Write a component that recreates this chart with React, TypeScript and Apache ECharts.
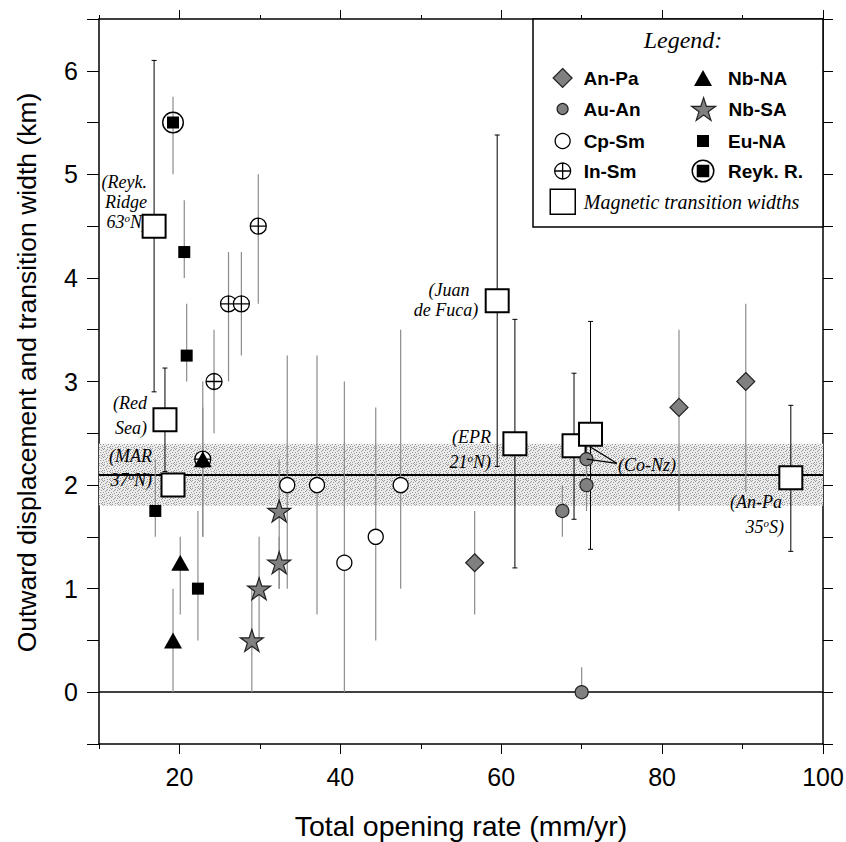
import React, { useEffect, useRef } from 'react';
import * as echarts from 'echarts';

// Each row: [total opening rate (mm/yr), value (km), error low, error high]
const anPa = [[56.7, 1.25, 0.75, 1.75], [82.1, 2.75, 1.75, 3.5], [90.4, 3.0, 1.93, 3.75]];
const auAn = [[67.6, 1.75, 1.5, 2.0], [70.6, 2.0, 1.75, 2.25], [70.6, 2.25, 2.0, 2.5], [70.0, 0.0, 0.0, 0.24]];
const cpSm = [[33.4, 2.0, 1.0, 3.25], [37.1, 2.0, 0.75, 3.25], [40.5, 1.25, 0.0, 3.0], [44.4, 1.5, 0.5, 2.75], [47.5, 2.0, 1.0, 3.5]];
const inSm = [[29.8, 4.5, 3.75, 5.0], [26.1, 3.75, 3.0, 4.25], [27.7, 3.75, 3.25, 4.25], [24.3, 3.0, 2.5, 3.5], [22.9, 2.25, 1.5, 3.0]];
const nbNa = [[22.9, 2.25, 1.5, 2.75], [20.1, 1.25, 0.75, 1.5], [19.2, 0.5, 0.0, 1.0]];
const nbSa = [[32.4, 1.75, 1.0, 2.25], [32.4, 1.25, 1.0, 1.5], [29.9, 1.0, 0.5, 1.5], [29.0, 0.5, 0.0, 1.0]];
const euNa = [[20.6, 4.25, 4.0, 4.75], [20.9, 3.25, 3.0, 3.75], [17.0, 1.75, 1.5, 2.25], [22.3, 1.0, 0.5, 1.75]];
const reykR = [[19.2, 5.5, 5.0, 5.75]];
const magWidths = [[16.85, 4.5, 2.9, 6.1], [18.2, 2.63, 2.13, 3.13], [19.2, 2.0, 2.0, 2.0], [59.5, 3.78, 2.18, 5.38], [61.7, 2.4, 1.2, 3.6], [69.05, 2.38, 1.67, 3.08], [71.1, 2.49, 1.38, 3.58], [96.0, 2.07, 1.36, 2.77]];

const meanWidth = 2.1;
const bandLow = 1.8;
const bandHigh = 2.4;
const coNzLabelAnchor = [74.36, 2.21];
const coNzTargets = [[71.04, 2.37], [70.63, 2.25]];

const xMajorTicks = [20, 40, 60, 80, 100];
const xMinorTicks = [10, 30, 50, 70, 90];
const yTickLabels = [0, 1, 2, 3, 4, 5, 6];

const SANS = '"Liberation Sans", Arial, Helvetica, sans-serif';
const SERIF = '"Liberation Serif", "Times New Roman", serif';

const STAR = 'path://M100,0 L122.45,69.1 L195.11,69.1 L136.33,111.8 L158.78,180.9 L100,138.2 L41.22,180.9 L63.67,111.8 L4.89,69.1 L77.55,69.1 Z';
const CROSS_CIRCLE = 'path://M0,10 A10,10 0 1,1 20,10 A10,10 0 1,1 0,10 Z M0,10 L20,10 M10,0 L10,20';
const RING_SQUARE = 'path://M0,11 A11,11 0 1,1 22,11 A11,11 0 1,1 0,11 Z M1.4,11 A9.6,9.6 0 1,0 20.6,11 A9.6,9.6 0 1,0 1.4,11 Z M5,5 L17,5 L17,17 L5,17 Z';

// stipple dot positions inside an 8x8 pattern tile (decoration only)
const STIPPLE = [[0, 0], [3, 1], [6, 0], [1, 3], [5, 2], [7, 4], [2, 5], [4, 4], [0, 6], [6, 6], [3, 7], [5, 7], [2, 2], [7, 1]];

const scatterDefs: any[] = [
  { name: 'Magnetic transition widths', data: magWidths, symbol: 'rect', size: 23, style: { color: '#fff', borderColor: '#000', borderWidth: 2 }, bar: '#000', cap: true },
  { name: 'An-Pa', data: anPa, symbol: 'diamond', size: 18, style: { color: '#808080', borderColor: '#222', borderWidth: 1.2 }, bar: '#8c8c8c' },
  { name: 'Au-An', data: auAn, symbol: 'circle', size: 13, style: { color: '#808080', borderColor: '#222', borderWidth: 1.2 }, bar: '#8c8c8c' },
  { name: 'Cp-Sm', data: cpSm, symbol: 'circle', size: 15, style: { color: '#fff', borderColor: '#000', borderWidth: 1.3 }, bar: '#8c8c8c' },
  { name: 'In-Sm', data: inSm, symbol: CROSS_CIRCLE, size: 16, style: { color: '#fff', borderColor: '#000', borderWidth: 1.3 }, bar: '#8c8c8c' },
  { name: 'Nb-NA', data: nbNa, symbol: 'triangle', size: [18, 16], style: { color: '#000', borderWidth: 0 }, bar: '#8c8c8c' },
  { name: 'Nb-SA', data: nbSa, symbol: STAR, size: 23, style: { color: '#808080', borderColor: '#222', borderWidth: 1.2 }, bar: '#8c8c8c' },
  { name: 'Eu-NA', data: euNa, symbol: 'rect', size: 12, style: { color: '#000', borderWidth: 0 }, bar: '#8c8c8c' },
  { name: 'Reyk. R.', data: reykR, symbol: RING_SQUARE, size: 22, style: { color: '#000', borderWidth: 0 }, bar: '#8c8c8c' },
];

const legendDefs: any[] = [
  { name: 'An-Pa', cx: 562, cy: 78, w: 19, h: 19, tx: 583, bw: 1.2 },
  { name: 'Au-An', cx: 562, cy: 109, w: 11, h: 11, tx: 583, bw: 1.2 },
  { name: 'Cp-Sm', cx: 562, cy: 141, w: 15, h: 15, tx: 583, bw: 1.3 },
  { name: 'In-Sm', cx: 562, cy: 171, w: 16, h: 16, tx: 583, bw: 1.3 },
  { name: 'Nb-NA', cx: 703, cy: 78, w: 18, h: 16, tx: 728, bw: 0 },
  { name: 'Nb-SA', cx: 703, cy: 109, w: 24, h: 24, tx: 728, bw: 1.2 },
  { name: 'Eu-NA', cx: 703, cy: 141, w: 12, h: 12, tx: 728, bw: 0 },
  { name: 'Reyk. R.', cx: 703, cy: 171, w: 23, h: 23, tx: 728, bw: 0 },
  { name: 'Magnetic transition widths', cx: 562, cy: 201, w: 25, h: 25, tx: 583, bw: 1.5, italic: true },
];

const annotations: any[] = [
  { t: '{n|(Reyk.}', x: 147, y: 182, a: 'right' },
  { t: '{n|Ridge}', x: 147, y: 202, a: 'right' },
  { t: '{n|63}{s|o}{n|N)}', x: 148, y: 222, a: 'right' },
  { t: '{n|(Red}', x: 147, y: 403, a: 'right' },
  { t: '{n|Sea)}', x: 147, y: 428, a: 'right' },
  { t: '{n|(MAR}', x: 152, y: 456, a: 'right' },
  { t: '{n|37}{s|o}{n|N)}', x: 152, y: 480, a: 'right' },
  { t: '{n|(Juan}', x: 449, y: 290, a: 'center' },
  { t: '{n|de Fuca)}', x: 446, y: 310, a: 'center' },
  { t: '{n|(EPR}', x: 491, y: 437, a: 'right' },
  { t: '{n|21}{s|o}{n|N)}', x: 491, y: 462, a: 'right' },
  { t: '{n|(Co-Nz)}', x: 618, y: 465, a: 'left' },
  { t: '{n|(An-Pa}', x: 782, y: 502, a: 'right' },
  { t: '{n|35}{s|o}{n|S)}', x: 784, y: 527, a: 'right' },
];

function errorBarSeries(def: any) {
  return {
    type: 'custom',
    name: 'err-' + def.name,
    z: 3,
    silent: true,
    data: def.data.map((r: number[]) => [r[0], r[2], r[3]]),
    encode: { x: 0, y: [1, 2] },
    renderItem: (_params: any, api: any) => {
      const x = api.value(0);
      const lo = api.value(1);
      const hi = api.value(2);
      const p1 = api.coord([x, lo]);
      const p2 = api.coord([x, hi]);
      const children: any[] = [];
      if (hi > lo) {
        children.push({ type: 'line', shape: { x1: p1[0], y1: p1[1], x2: p2[0], y2: p2[1] }, style: { stroke: def.bar, lineWidth: def.cap ? 1 : 1.2 } });
        if (def.cap) {
          children.push({ type: 'line', shape: { x1: p1[0] - 2.5, y1: p1[1], x2: p1[0] + 2.5, y2: p1[1] }, style: { stroke: def.bar, lineWidth: 1 } });
          children.push({ type: 'line', shape: { x1: p2[0] - 2.5, y1: p2[1], x2: p2[0] + 2.5, y2: p2[1] }, style: { stroke: def.bar, lineWidth: 1 } });
        }
      }
      return { type: 'group', children };
    },
  };
}

export default function App() {
  const ref = useRef<HTMLDivElement>(null);
  useEffect(() => {
    document.body.style.margin = '0';
    if (!ref.current) return;
    const chart = echarts.init(ref.current, undefined, { renderer: 'svg' });

    const tile = document.createElement('canvas');
    tile.width = 8;
    tile.height = 8;
    const ctx = tile.getContext('2d');
    if (ctx) {
      ctx.fillStyle = '#ebebeb';
      ctx.fillRect(0, 0, 8, 8);
      ctx.fillStyle = '#999999';
      STIPPLE.forEach(([px, py]) => ctx.fillRect(px, py, 1, 1));
    }
    const bandFill: any = { image: tile, repeat: 'repeat' };

    const tickStyle = { color: '#000', width: 1 };
    const axisLineStyle = { color: '#000', width: 1.5 };

    const series: any[] = [];
    series.push({
      type: 'line',
      name: 'band',
      data: [],
      silent: true,
      markArea: { silent: true, z: 1, itemStyle: { color: bandFill }, data: [[{ yAxis: bandLow }, { yAxis: bandHigh }]] },
      markLine: {
        silent: true, z: 2, symbol: ['none', 'none'], label: { show: false },
        lineStyle: { color: '#000', type: 'solid' },
        data: [{ yAxis: meanWidth, lineStyle: { width: 2.2 } }, { yAxis: 0, lineStyle: { width: 1.6 } }],
      },
    });
    scatterDefs.forEach((d) => series.push(errorBarSeries(d)));
    scatterDefs.forEach((d) => {
      series.push({
        type: 'scatter',
        name: d.name,
        z: 10,
        data: d.data.map((r: number[]) => [r[0], r[1]]),
        symbol: d.symbol,
        symbolSize: d.size,
        symbolKeepAspect: true,
        itemStyle: { ...d.style, opacity: 1 },
        emphasis: { disabled: true },
      });
    });
    series.push({
      type: 'line',
      name: 'leaders',
      data: [],
      silent: true,
      markLine: {
        silent: true, z: 12, symbol: ['none', 'none'], label: { show: false },
        lineStyle: { color: '#000', type: 'solid', width: 1.3 },
        data: coNzTargets.map((t) => [{ coord: coNzLabelAnchor }, { coord: t }]),
      },
    });

    const legends = legendDefs.map((l) => {
      const left = l.cx - l.w / 2;
      const rowH = Math.max(l.h, 22);
      return {
        data: [l.name],
        left,
        top: l.cy - rowH / 2,
        padding: 0,
        itemWidth: l.w,
        itemHeight: l.h,
        selectedMode: false,
        itemStyle: { borderWidth: l.bw },
        textStyle: {
          color: '#000',
          fontFamily: l.italic ? SERIF : SANS,
          fontStyle: l.italic ? 'italic' : 'normal',
          fontWeight: l.italic ? 'normal' : 'bold',
          fontSize: l.italic ? 20 : 19,
          lineHeight: 22,
          padding: [0, 0, 0, l.tx - (left + l.w + 5)],
        },
      };
    });

    const richBase = { fontFamily: SERIF, fontStyle: 'italic', fontSize: 18, lineHeight: 20, fill: '#000', color: '#000' };
    const graphic: any[] = [
      { type: 'rect', z: 3, shape: { x: 533, y: 19, width: 290, height: 208 }, style: { fill: '#fff', stroke: '#000', lineWidth: 1.5 } },
      { type: 'text', z: 5, x: 683, y: 40, style: { text: 'Legend:', fontFamily: SERIF, fontStyle: 'italic', fontSize: 24, fill: '#000', align: 'center', verticalAlign: 'middle' } },
    ];
    annotations.forEach((a) => {
      graphic.push({
        type: 'text', z: 6, x: a.x, y: a.y,
        style: {
          text: a.t, align: a.a, verticalAlign: 'middle', fill: '#000',
          fontFamily: SERIF, fontStyle: 'italic', fontSize: 18,
          rich: { n: richBase, s: { fontFamily: SERIF, fontStyle: 'italic', fontSize: 11, fill: '#000', color: '#000', verticalAlign: 'top', lineHeight: 5 } },
        },
      });
    });

    const option: any = {
      animation: false,
      backgroundColor: '#fff',
      grid: { left: 99, right: 23, top: 19, bottom: 98, containLabel: false, outerBoundsMode: 'none' },
      xAxis: [
        {
          type: 'value', min: 10, max: 100, interval: 10, position: 'bottom',
          axisLine: { show: true, onZero: false, lineStyle: axisLineStyle },
          axisTick: { show: true, customValues: xMajorTicks, length: 10, lineStyle: tickStyle },
          axisLabel: { customValues: xMajorTicks, fontSize: 25, color: '#000', fontFamily: SANS, margin: 20 },
          splitLine: { show: false },
          name: 'Total opening rate (mm/yr)', nameLocation: 'middle', nameGap: 67,
          nameTextStyle: { fontSize: 28.5, color: '#000', fontFamily: SANS },
        },
        {
          type: 'value', min: 10, max: 100, interval: 10, position: 'bottom',
          axisLine: { show: false, onZero: false },
          axisTick: { show: true, customValues: xMinorTicks, length: 5, lineStyle: tickStyle },
          axisLabel: { show: false }, splitLine: { show: false },
        },
        {
          type: 'value', min: 10, max: 100, interval: 10, position: 'top',
          axisLine: { show: true, onZero: false, lineStyle: axisLineStyle },
          axisTick: { show: true, customValues: xMajorTicks, length: 9, lineStyle: tickStyle },
          axisLabel: { show: false }, splitLine: { show: false },
        },
        {
          type: 'value', min: 10, max: 100, interval: 10, position: 'top',
          axisLine: { show: false, onZero: false },
          axisTick: { show: true, customValues: xMinorTicks, length: 4, lineStyle: tickStyle },
          axisLabel: { show: false }, splitLine: { show: false },
        },
      ],
      yAxis: [
        {
          type: 'value', min: -0.5, max: 6.5, interval: 0.5, position: 'left',
          axisLine: { show: true, onZero: false, lineStyle: axisLineStyle },
          axisTick: { show: true, length: 12, lineStyle: tickStyle },
          axisLabel: { customValues: yTickLabels, fontSize: 25, color: '#000', fontFamily: SANS, margin: 21 },
          splitLine: { show: false },
          name: 'Outward displacement and transition width (km)', nameLocation: 'middle', nameGap: 59,
          nameTextStyle: { fontSize: 26.5, color: '#000', fontFamily: SANS, padding: [0, 0, 0, 18] },
        },
        {
          type: 'value', min: -0.5, max: 6.5, interval: 0.5, position: 'right',
          axisLine: { show: true, onZero: false, lineStyle: axisLineStyle },
          axisTick: { show: true, length: 10, lineStyle: tickStyle },
          axisLabel: { show: false }, splitLine: { show: false },
        },
      ],
      legend: legends,
      graphic,
      series,
    };
    chart.setOption(option);
    return () => chart.dispose();
  }, []);
  return <div ref={ref} style={{ width: 846, height: 842 }} />;
}
